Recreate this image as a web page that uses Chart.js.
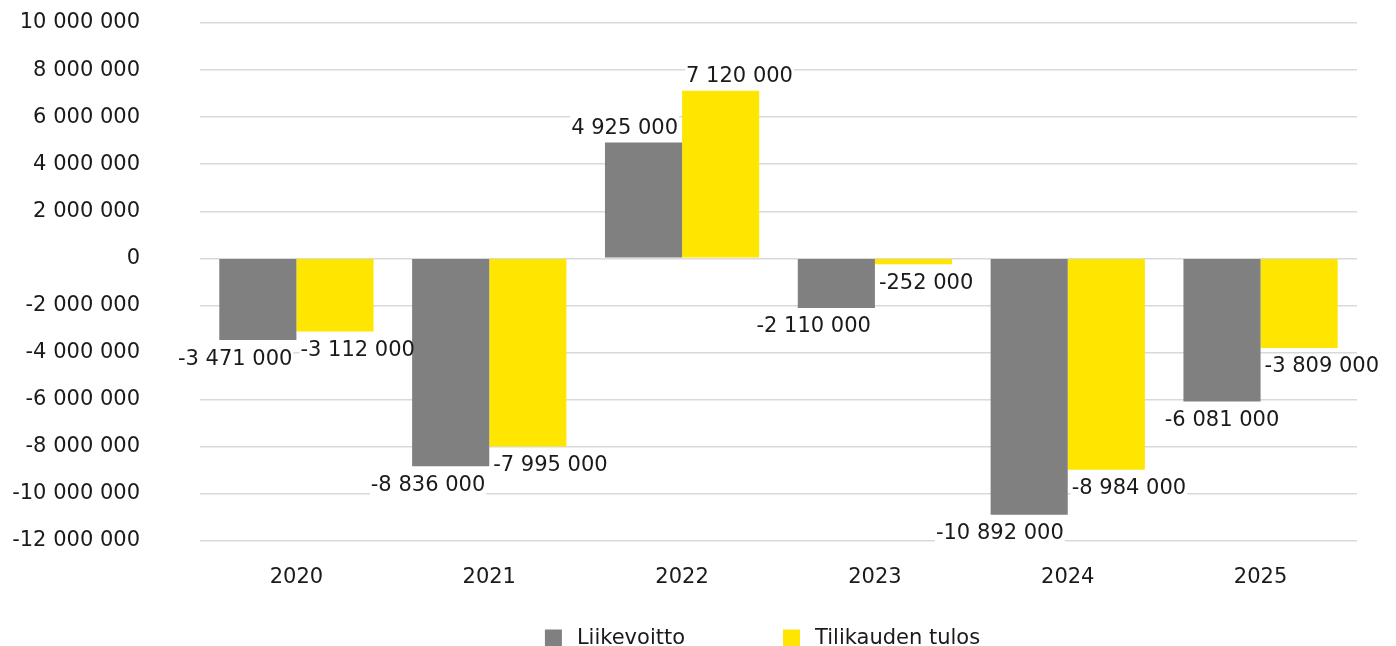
<!DOCTYPE html>
<html>
<head>
<meta charset="utf-8">
<script src="https://cdn.jsdelivr.net/npm/chart.js@4.4.1/dist/chart.umd.min.js"></script>
<style>
  html, body { margin: 0; padding: 0; background: #fff; overflow: hidden; }
  #wrap { width: 1396px; height: 646px; }
</style>
</head>
<body>
<div id="wrap"><canvas id="resultChart"></canvas></div>
<script>
const years = ["2020", "2021", "2022", "2023", "2024", "2025"];
const operatingProfit = [-3471000, -8836000, 4925000, -2110000, -10892000, -6081000];
const periodResult = [-3112000, -7995000, 7120000, -252000, -8984000, -3809000];
const seriesNames = ["Liikevoitto", "Tilikauden tulos"];
const yMin = -12000000;
const yMax = 10000000;
const yStep = 2000000;

const FONT = "'DejaVu Sans', sans-serif";
const TEXT = "#1a1a1a";
const LABEL_H = 24;

function fmt(v) {
  const s = Math.abs(v).toString().replace(/\B(?=(\d{3})+(?!\d))/g, " ");
  return (v < 0 ? "-" : "") + s;
}

// where each value label goes: grey ones right-aligned to the bar, yellow ones left-aligned
function labelBoxes(chart) {
  const ctx = chart.ctx;
  const out = [];
  ctx.save();
  ctx.font = "21px " + FONT;
  chart.data.datasets.forEach((ds, di) => {
    const meta = chart.getDatasetMeta(di);
    meta.data.forEach((bar, i) => {
      const v = ds.data[i];
      const txt = fmt(v);
      const w = ctx.measureText(txt).width;
      const top = v < 0 ? bar.y + 6 : bar.y - 3 - LABEL_H;
      let x;
      if (di === 0) {
        x = bar.x + bar.width / 2 - 4 - w;
        // would run into the previous yellow bar -> centre it under own bar
        const prev = i > 0 ? chart.getDatasetMeta(1).data[i - 1] : null;
        if (prev && x < prev.x + prev.width / 2 + 2 && top < Math.max(prev.y, prev.base)) {
          x = bar.x - w / 2;
        }
      } else {
        x = bar.x - bar.width / 2 + 4;
      }
      out.push({ txt, x, top, w });
    });
  });
  ctx.restore();
  return out;
}

const valueLabels = {
  id: "valueLabels",
  beforeDatasetsDraw(chart) {
    // white box behind the text hides the gridlines but not the bars
    const ctx = chart.ctx;
    ctx.save();
    ctx.fillStyle = "#fff";
    labelBoxes(chart).forEach(b => ctx.fillRect(b.x - 1, b.top, b.w + 2, LABEL_H));
    ctx.restore();
  },
  afterDatasetsDraw(chart) {
    const ctx = chart.ctx;
    ctx.save();
    ctx.font = "21px " + FONT;
    ctx.fillStyle = TEXT;
    ctx.textBaseline = "middle";
    ctx.textAlign = "left";
    labelBoxes(chart).forEach(b => ctx.fillText(b.txt, b.x, b.top + LABEL_H / 2 + 1));
    ctx.restore();
  }
};

// legend drawn under the axis, it runs off the bottom edge like in the source
const bottomLegend = {
  id: "bottomLegend",
  afterDraw(chart) {
    const ctx = chart.ctx;
    const box = 17, gapText = 15, gapItem = 98;
    ctx.save();
    ctx.font = "21px " + FONT;
    const widths = chart.data.datasets.map(d => box + gapText + ctx.measureText(d.label).width);
    const total = widths.reduce((a, b) => a + b, 0) + gapItem * (widths.length - 1);
    const area = chart.chartArea;
    let x = (area.left + area.right) / 2 - 16 - total / 2;
    const y = 638;
    chart.data.datasets.forEach((d, i) => {
      ctx.fillStyle = d.backgroundColor;
      ctx.fillRect(x, y - box / 2, box, box);
      ctx.fillStyle = TEXT;
      ctx.textBaseline = "middle";
      ctx.textAlign = "left";
      ctx.fillText(d.label, x + box + gapText, y + 1);
      x += widths[i] + gapItem;
    });
    ctx.restore();
  }
};

const chartConfig = {
  type: "bar",
  data: {
    labels: years,
    datasets: [
      {
        label: seriesNames[0],
        backgroundColor: "#808080",
        data: operatingProfit
      },
      {
        label: seriesNames[1],
        backgroundColor: "#FFE600",
        data: periodResult
      }
    ]
  },
  options: {
    responsive: true,
    maintainAspectRatio: false,
    animation: false,
    layout: { padding: { top: 23, right: 39, bottom: 40, left: 0 } },
    datasets: { bar: { categoryPercentage: 0.8, barPercentage: 1.0 } },
    plugins: {
      legend: { display: false },
      tooltip: { enabled: false }
    },
    scales: {
      x: {
        grid: { display: false },
        border: { display: false },
        ticks: { color: TEXT, font: { family: FONT, size: 21 }, padding: 16 }
      },
      y: {
        min: yMin,
        max: yMax,
        afterFit(scale) {
          scale.width = 200;
          scale.paddingTop = 12;
          scale.paddingBottom = 12;
        },
        grid: { color: "#d9d9d9", lineWidth: 1.5, drawTicks: false },
        border: { display: false },
        ticks: {
          stepSize: yStep,
          color: TEXT,
          font: { family: FONT, size: 21 },
          padding: 60,
          callback: v => fmt(v)
        }
      }
    }
  },
  plugins: [valueLabels, bottomLegend]
};

window.chart = new Chart(document.getElementById("resultChart").getContext("2d"), chartConfig);
</script>
</body>
</html>
